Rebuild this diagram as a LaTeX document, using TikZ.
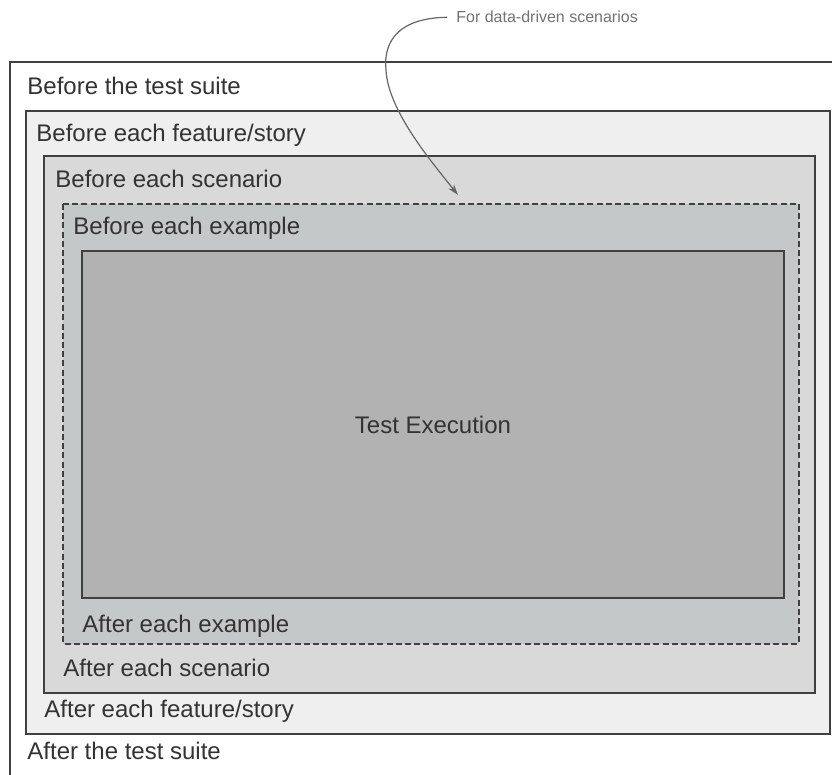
\documentclass[tikz,border=0pt]{standalone}
\usepackage{fontspec}
\setmainfont{Liberation Sans}
\usetikzlibrary{arrows.meta}
\definecolor{featurefill}{HTML}{EFEFEF}
\definecolor{scenariofill}{HTML}{D9D9D9}
\definecolor{examplefill}{HTML}{C5C8C8}
\definecolor{execfill}{HTML}{B2B2B2}

\begin{document}
\begin{tikzpicture}[
  x=0.5pt, y=-0.5pt, >={Stealth[length=5.5pt,width=3.5pt]},
  font=\fontsize{12}{14}\selectfont,
  layer/.style={draw=black!75, line width=0.7pt},
  lab/.style={anchor=base west, inner sep=0pt, text=black!80},
  note/.style={font=\fontsize{8}{10}\selectfont, text=black!55, anchor=base west, inner xsep=4.5pt, inner ysep=0pt}]
\useasboundingbox (0,0) rectangle (832,775);
\clip (0,0) rectangle (832,775);
% nested hook levels
\draw[layer, fill=white] (10,62) rectangle (850,800);
\draw[layer, fill=featurefill] (26,111) rectangle (830,734);
\draw[layer, fill=scenariofill] (44,156) rectangle (815,693);
\draw[layer, fill=examplefill, dash pattern=on 3pt off 1.6pt] (63,204) rectangle (799,644);
\draw[layer, fill=execfill] (82,251) rectangle (784,598);
\node[text=black!80] (exec) at (433,424.5) {Test Execution};
% before / after labels
\node[lab] (bsuite) at (27,95) {Before the test suite};
\node[lab] (bfeature) at (36,142) {Before each feature/story};
\node[lab] (bscenario) at (55,188) {Before each scenario};
\node[lab] (bexample) at (73,235) {Before each example};
\node[lab] (aexample) at (82,633) {After each example};
\node[lab] (ascenario) at (63,677) {After each scenario};
\node[lab] (afeature) at (44,718) {After each feature/story};
\node[lab] (asuite) at (27,760) {After the test suite};
% annotation
\node[note] (datadriven) at (447,23) {For data-driven scenarios};
\coordinate (exampletop) at (458,195);
\draw[->, black!60, line width=0.6pt] (datadriven.west) .. controls (400,18) and (383,40) .. (386,70)
  .. controls (388,110) and (430,160) .. (exampletop);
\end{tikzpicture}
\end{document}
